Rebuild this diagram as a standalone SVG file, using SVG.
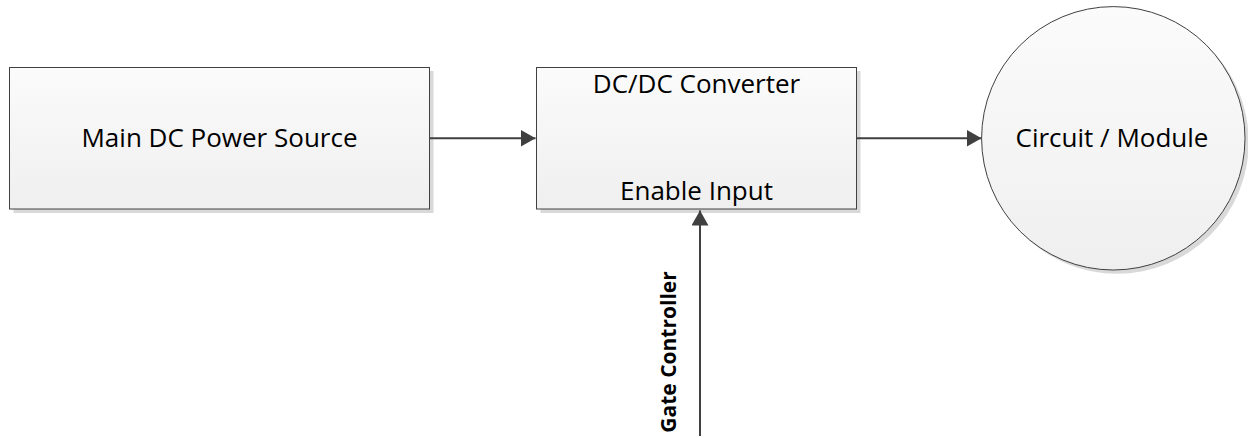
<svg xmlns="http://www.w3.org/2000/svg" width="1248" height="438" viewBox="0 0 1248 438">
  <defs>
    <linearGradient id="fillGrad" x1="0" y1="0" x2="0" y2="1">
      <stop offset="0" stop-color="#fbfbfb"/>
      <stop offset="1" stop-color="#efefef"/>
    </linearGradient>
    <marker id="arrow" markerUnits="userSpaceOnUse" markerWidth="16" markerHeight="18" refX="15" refY="8.5" orient="auto">
      <path d="M0,0 L15,8.5 L0,17 Z" fill="#404040"/>
    </marker>
    <style>
      .shape { fill: url(#fillGrad); stroke: #404040; stroke-width: 1; }
      .shadow { fill: #d9d9d9; }
      .label { font-family: "Open Sans", "Noto Sans", sans-serif; font-size: 26px; fill: #000; text-anchor: middle; }
      .edge { stroke: #404040; stroke-width: 2; fill: none; marker-end: url(#arrow); }
      .edgeLabel { font-family: "Open Sans", "Noto Sans", sans-serif; font-size: 21px; font-weight: bold; fill: #000; text-anchor: middle; }
    </style>
  </defs>

  <rect width="1248" height="438" fill="#ffffff"/>

  <g id="main-dc-power-source">
    <rect class="shadow" x="13.5" y="71" width="420" height="142"/>
    <rect class="shape" x="9.5" y="67.5" width="420" height="141.5"/>
    <text class="label" x="219.5" y="146.7">Main DC Power Source</text>
  </g>

  <g id="dc-dc-converter">
    <rect class="shadow" x="540.5" y="71" width="320" height="142"/>
    <rect class="shape" x="536.5" y="67.5" width="320" height="141.5"/>
    <text class="label" x="696.5" y="92.7">DC/DC Converter</text>
    <text class="label" x="696.5" y="200">Enable Input</text>
  </g>

  <g id="circuit-module">
    <circle class="shadow" cx="1117" cy="142" r="131.7"/>
    <circle class="shape" cx="1113.3" cy="138.3" r="131.7"/>
    <text class="label" x="1112" y="147">Circuit / Module</text>
  </g>

  <g id="connectors">
    <line class="edge" x1="430" y1="138.3" x2="535.5" y2="138.3"/>
    <line class="edge" x1="857" y1="138.3" x2="981.5" y2="138.3"/>
    <line class="edge" x1="700" y1="436" x2="700" y2="210.5"/>
    <text class="edgeLabel" transform="translate(676,352) rotate(-90)">Gate Controller</text>
  </g>
</svg>
